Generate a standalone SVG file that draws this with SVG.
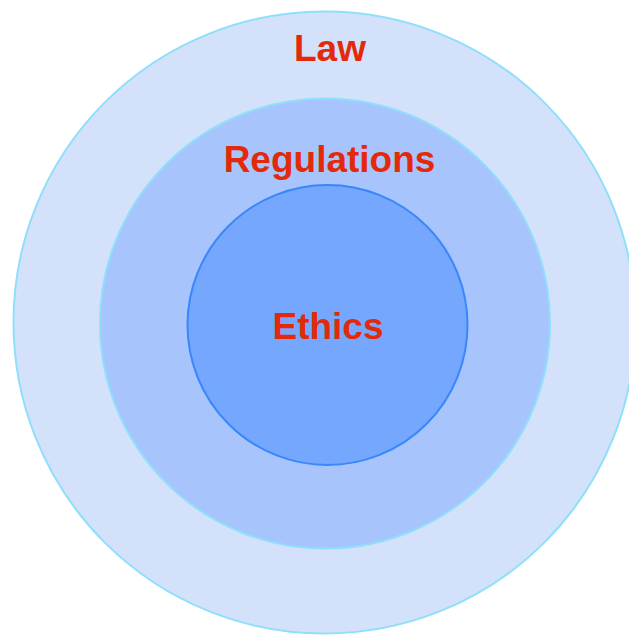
<svg xmlns="http://www.w3.org/2000/svg" width="629" height="635" viewBox="0 0 629 635">
<style>
.lbl{font-family:"Liberation Sans",Arial,sans-serif;font-weight:bold;font-size:37px;fill:#e22a0b;text-anchor:middle}
</style>
<rect width="629" height="635" fill="#ffffff"/>
<g id="law">
<circle cx="324.5" cy="322.5" r="311" fill="#d4e1fb" stroke="#8fdffb" stroke-width="2"/>
<text class="lbl" x="330" y="61">Law</text>
</g>
<g id="regulations">
<circle cx="325" cy="323.5" r="225" fill="#a8c4fc" stroke="#8fdffb" stroke-width="2"/>
<text class="lbl" x="329.5" y="172">Regulations</text>
</g>
<g id="ethics">
<circle cx="327.5" cy="325" r="140" fill="#74a7fd" stroke="#3a86fb" stroke-width="2"/>
<text class="lbl" x="328" y="339">Ethics</text>
</g>
<g id="connectors"/>
</svg>
